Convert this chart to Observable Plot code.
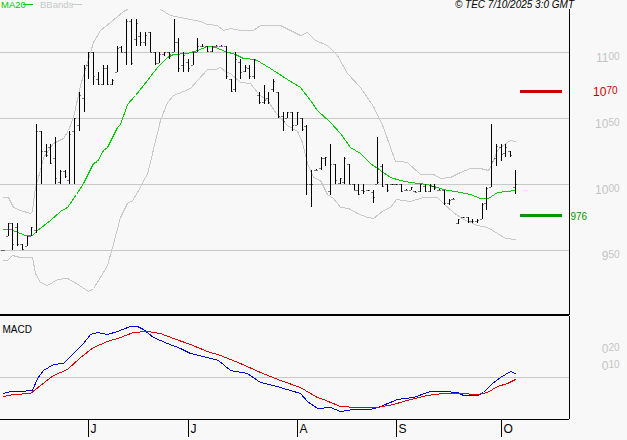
<!DOCTYPE html>
<html><head><meta charset="utf-8">
<script src="https://cdn.jsdelivr.net/npm/d3@7"></script>
<script src="https://cdn.jsdelivr.net/npm/@observablehq/plot@0.6"></script>
<style>
html,body{margin:0;padding:0;background:#f8f8f8;}
#wrap{position:relative;width:627px;height:440px;overflow:hidden;font-family:"Liberation Sans",Arial,sans-serif;background:#f8f8f8;}
#wrap svg{position:absolute;left:0;}
.hdr{position:absolute;top:0;font-size:9.5px;line-height:10px;white-space:nowrap;}
.sw{position:absolute;height:1px;width:10px;top:4px;}
</style></head><body><div id="wrap">
<div class="hdr" style="left:1px;color:#00cc00">MA20</div><div class="sw" style="left:23px;background:#00cc00"></div>
<div class="hdr" style="left:40px;color:#c8c8c8">BBands</div><div class="sw" style="left:72px;background:#c8c8c8"></div>
<div class="hdr" style="right:53px;font-size:10px;font-style:italic;color:#000">© TEC 7/10/2025 3:0 GMT</div>
</div>
<script>
// ---- Daily OHLC (bar index 0 = early May 2025, last = 6 Oct 2025) ----
const high = [950,971,971,971,955,961,968,1046,1040.6,1030.5,
 1030.5,1035.6,1011,1011,1040,1050,1070,1090,1100,1100,
 1085,1090,1090,1080,1105,1105,1125,1125,1125,1115.6,
 1115.6,1115.6,1100,1100,1100,1100,1125,1110.6,1100,1095,
 1100,1110.6,1106,1105,1105,1105.5,1105.5,1105,1080,1100,
 1095,1090,1090,1095,1070,1075,1070,1080,1070,1055,
 1055,1055,1055,1050,1045,1011,1011.5,1021,1021,1030.5,
 1015,1005,1021,1015,1000,1000,1000,996,995.5,1036,
 1015,1000,1000.5,1000.5,1000,996.5,998,995,1000,1000,
 1000,1000,996.5,996,989,989.5,974,975.5,975,974,
 974,986,998,1045.6,1030.5,1030.5,1030.5,1025,1011];
const low = [950,961,950,953,950,953,961,963,1000,1021,
 1015,1000,1000,1005,1000,1000,1040.6,1055,1080,1075,
 1075,1075,1075,1075,1085,1100,1090,1090,1105,1105,
 1105,1100,1090,1092,1097,1095,1100,1085,1085,1085,
 1090,1100,1104,1100,1100,1104.5,1104.5,1080,1070,1070,
 1080,1085,1080,1080,1060.6,1060.6,1060.6,1070,1050,1040,
 1050,1040,1045,1040,992,983,1010.5,1011,1014,992,
 1000,1000,1000,1000,995.5,992,993,995,986,1000,
 998,994,999.5,999.5,994,995.5,995.5,994,994,994,
 994,996,995.5,984,984,988.5,970,974.5,971,971,
 971,974,980.5,998,1014,1018,1021,1021,993];
const open = [950,961,971,968,955,953,961,965,1040,1025,
 1028,1020,1002,1010,1003,1040,1045,1065,1090,1100,
 1080,1076,1088,1076,1085,1104,1100,1124,1110,1112,
 1108,1115,1100,1092,1099,1100,1100,1108,1090,1093,
 1090,1100,1105,1105,1101,1105,1105,1105,1080,1072,
 1093,1086,1088,1082,1068,1062,1065,1072,1070,1052,
 1050,1055,1045,1050,1044,1000,1011,1012,1020,995,
 1015,1001,1002,1015,1000,996,996,995.5,994,1000,
 1014,1000,1000,1000,1000,996,996,995,995,999,
 995,999,996,996,986,989,971,975,975,972,
 972,974,986,998,1020,1028,1024,1025,998];
const close = [950,971,955,955,951,961,968,1040,1025,1022,
 1016,1005,1010,1006,1038,1050,1068,1088,1100,1082,
 1076,1088,1076,1079,1103,1100,1124,1092,1122,1108,
 1113,1100,1092,1099,1100,1099,1108,1088,1098,1088,
 1100,1105,1105,1101,1105,1105,1105,1082,1071,1095,
 1085,1089,1082,1094,1062,1064,1062,1078,1052,1048,
 1055,1045,1055,1042,1000,1000,1011,1020,1021,1015,
 1003,1005,1020,1000,996,993,995,995.5,990,1002,
 999,996,1000,1000,995,996,998,994,1000,995,
 999,997,996,986,988,989,974,975,972,972,
 973,985,997,1018,1029,1023,1028,1022,1000];

// ---- Indicator lines: [bar index, value] ----
const ma20 = [[0,966],[1.5,966],[4.6,961.4],[6.1,961.4],[7.1,965],[9.9,973],[12,980],[13.4,983],[15.5,993],[16.9,1000.8],
 [19,1016],[19.8,1018],[21.2,1026],[21.9,1028.5],[24,1043.6],[24.7,1046],[26.1,1061],[27.8,1067.6],[30.3,1079],[32.4,1089],
 [34.5,1096.7],[35.9,1099],[38.8,1099.7],[40.9,1102],[43,1105],[44.7,1104],[46.8,1101],[49,1098.7],[50.7,1096],[53.2,1094.7],
 [56.3,1088],[59.9,1080],[62.7,1073.4],[64.8,1064],[66.2,1056],[69,1047.4],[71.1,1038.6],[73.2,1028.5],[75.3,1023.5],[77.4,1016],
 [79.5,1011],[81.6,1005.8],[83.8,1003],[85.9,1001.5],[89.4,1000],[92.9,996.7],[96.4,994.4],[98.5,992.4],[100.6,989.4],[102.4,989.4],
 [104.2,994.3],[106.3,995],[108,995.7]];
const bandUpper = [[0,990],[1.1,990],[2.2,983],[3.6,980.5],[5.7,978.5],[6.2,980],[6.8,998],[7.8,1011],[8.5,1021],[10.6,1031],
 [12.7,1035],[13.8,1041],[14.8,1051],[16.2,1075],[17.7,1093],[19,1108],[20.5,1117],[22.6,1123],[25.4,1131],[26.1,1133],
 [28.5,1138],[31,1138],[33.1,1133],[35.2,1128],[41.6,1124],[43,1121.4],[45.1,1120.7],[46.5,1117],[47.9,1118.6],[50,1117],
 [52.8,1117],[54.2,1120.7],[58.4,1120.7],[60.5,1117],[62.7,1113],[64.1,1115],[65.8,1109],[68.3,1105.5],[70.4,1098],[72.5,1084],
 [75.3,1074],[78.1,1059],[80.2,1043.6],[81.6,1028.5],[82.7,1018],[83.8,1018],[85.2,1016.6],[88,1008],[90.8,1008],[92.2,1004.5],
 [94.3,1005.8],[96.4,1009.5],[98.5,1012],[100.6,1012],[102.4,1011],[103.1,1016],[104.2,1026],[104.9,1028.5],[107,1033.5],[108,1033]];
const bandLower = [[0,942.7],[0.8,942.7],[1.8,946.4],[3.6,944.7],[6.1,944.7],[6.8,932.6],[7.8,926.2],[9.2,924],[11.3,928],[13.4,928.8],
 [15.5,925],[18,919],[19,921.2],[20.5,930],[21.9,939],[22.9,952.7],[24.7,975.5],[26.1,986],[27.2,988],[28.9,998],
 [29.6,1003],[30.3,1008],[31.7,1027],[33.1,1048.7],[34.5,1062.6],[35.9,1067.6],[38,1071],[39.5,1072.7],[40.9,1079],[43,1087],
 [44.7,1087],[45.8,1089],[46.8,1086],[47.9,1084],[50,1077.7],[52.1,1077],[53.5,1070],[54.2,1067.6],[55.6,1064],[57.7,1053.8],
 [59.9,1045],[62,1040],[63,1032],[64.1,1016],[65.5,1005.8],[66.9,1003],[68.3,993],[69.7,989.4],[71.1,983],[72.8,981.8],
 [74.6,978],[76.7,975],[78.1,974.2],[80.2,980.5],[81.6,983],[83,988.6],[85.9,987],[88.7,990.6],[91.5,990.6],[92.9,985.6],
 [95,979],[97.1,973.5],[100,969],[102.1,967.9],[104.2,963],[106,959],[108,958.3]];
const macdLine = [[0,-0.094],[1.5,-0.081],[3.6,-0.081],[6.1,-0.075],[7.1,-0.006],[8.5,0.043],[10.6,0.078],[12.7,0.086],[14.8,0.141],[16.9,0.2],
 [18.4,0.255],[19.8,0.265],[21.9,0.255],[24,0.274],[26.8,0.302],[28.2,0.302],[29.6,0.282],[31.7,0.235],[34.5,0.204],[37.3,0.17],
 [39.5,0.141],[43,0.121],[45.4,0.102],[47.9,0.043],[51.4,0.024],[54.2,-0.026],[57,-0.045],[60.5,-0.075],[62.7,-0.094],[64.1,-0.137],
 [66.2,-0.182],[69,-0.176],[71.1,-0.196],[73.9,-0.186],[77.4,-0.185],[79.5,-0.169],[83.1,-0.129],[86.6,-0.118],[90.1,-0.079],[92.9,-0.079],
 [95.7,-0.085],[97.1,-0.102],[100,-0.104],[101.3,-0.085],[103.1,-0.035],[104.9,0.004],[107,0.039],[108,0.024]];
const macdSignal = [[0,-0.11],[2.2,-0.098],[5.7,-0.09],[7.8,-0.045],[10.6,0.014],[13.4,0.047],[16.2,0.121],[19,0.18],[21.9,0.214],[24.7,0.239],
 [27.5,0.268],[30.3,0.272],[33.1,0.259],[35.9,0.229],[39.5,0.194],[43,0.156],[45.8,0.131],[50,0.082],[54.2,0.033],[58.4,-0.016],
 [62.7,-0.059],[64.8,-0.094],[66.2,-0.118],[67.6,-0.129],[71.1,-0.169],[74.6,-0.176],[78.8,-0.173],[82.3,-0.157],[85.9,-0.129],[89.4,-0.104],
 [92.9,-0.094],[96.4,-0.094],[100,-0.1],[102.1,-0.085],[104.2,-0.051],[106.3,-0.032],[108,-0.01]];

// ---- Axes / levels ----
const priceTicks = [1100, 1050, 1000, 950];
const macdTicks = [0.2, 0.1];
const macdTickLabels = ["020", "010"];
const monthIdx = [18, 39, 62, 83, 105];
const monthLabels = ["J", "J", "A", "S", "O"];
const levels = [{v: 1070, label: "1070", color: "#cc0000"}, {v: 976, label: "976", color: "#009900"}];

const bars = high.map((h, i) => ({i, h, l: low[i], o: open[i], c: close[i]}));
const n = bars.length;
const xDomain = [-0.633, 119.41];
const FONT = "Liberation Sans, Arial, sans-serif";
const px = d => d[0], py = d => d[1];
const thin = {strokeWidth: 1, shapeRendering: "crispEdges"};

const main = Plot.plot({
  width: 627, height: 315, marginLeft: 0, marginRight: 58, marginTop: 9, marginBottom: 0,
  style: {background: "transparent", fontFamily: FONT, overflow: "visible"},
  x: {domain: xDomain, axis: null, round: true},
  y: {domain: [900.98, 1132.8], axis: null, round: true},
  marks: [
    Plot.ruleY(priceTicks, {stroke: "#c8c8c8"}),
    Plot.line(bandUpper, {x: px, y: py, stroke: "#c8c8c8", clip: true, ...thin}),
    Plot.line(bandLower, {x: px, y: py, stroke: "#c8c8c8", clip: true, ...thin}),
    Plot.line(ma20, {x: px, y: py, stroke: "#00cc00", clip: true, ...thin}),
    Plot.ruleX(bars, {x: "i", y1: "l", y2: "h", stroke: "black"}),
    Plot.ruleY(bars, {x1: "i", x2: "i", y: "o", insetLeft: -1.5, insetRight: 0.5, stroke: "black"}),
    Plot.ruleY(bars, {x1: "i", x2: "i", y: "c", insetLeft: 0.5, insetRight: -1.5, stroke: "black"}),
    Plot.ruleY(levels, {y: "v", x1: n, x2: n + 9, stroke: "color", strokeWidth: 3, dy: -1}),
    Plot.ruleX([xDomain[1]], {stroke: "black"}),
    Plot.text(priceTicks, {y: d => d, text: d => String(d), frameAnchor: "right", dx: 50, dy: 6,
      textAnchor: "end", fontSize: 12, fill: "#c4c4c4", className: "sup"}),
    Plot.text(levels.slice(0, 1), {y: "v", text: "label", frameAnchor: "right", dx: 48, dy: 0,
      textAnchor: "end", fontSize: 12, fill: "color", className: "sup"}),
    Plot.text(levels.slice(1), {y: "v", text: "label", frameAnchor: "right", dx: 1, dy: 0,
      textAnchor: "start", fontSize: 10, fill: "color"})
  ]
});

const macd = Plot.plot({
  width: 627, height: 127, marginLeft: 0, marginRight: 58, marginTop: 3, marginBottom: 21,
  style: {background: "transparent", fontFamily: FONT, overflow: "visible"},
  x: {domain: xDomain, axis: null, round: true},
  y: {domain: [-0.2453, 0.3606], axis: null, round: true},
  marks: [
    Plot.ruleY([0], {stroke: "#c8c8c8"}),
    Plot.line(macdLine, {x: px, y: py, stroke: "#0000dd", ...thin}),
    Plot.line(macdSignal, {x: px, y: py, stroke: "#dd0000", ...thin}),
    Plot.ruleY([0.3606], {stroke: "black", strokeWidth: 2, dy: -1.5}),
    Plot.ruleY([-0.2453], {stroke: "black"}),
    Plot.ruleX([xDomain[1]], {stroke: "black"}),
    Plot.axisX({ticks: monthIdx, tickSize: 18, tickFormat: () => "", color: "black"}),
    Plot.text(monthLabels, {x: (d, i) => monthIdx[i], frameAnchor: "bottom", dy: 13.5, dx: 2,
      textAnchor: "start", fontSize: 12, fill: "black"}),
    Plot.text(["MACD"], {frameAnchor: "top-left", dx: 2, dy: 9, textAnchor: "start", fontSize: 10, fill: "black"}),
    Plot.text(macdTicks, {y: d => d, text: (d, i) => macdTickLabels[i], frameAnchor: "right", dx: 50, dy: 6,
      textAnchor: "end", fontSize: 12, fill: "#c4c4c4", className: "sup"})
  ]
});

const wrap = document.getElementById("wrap");
main.style.top = "0px";
macd.style.top = "313px";
wrap.appendChild(main);
wrap.appendChild(macd);

// Smaller raised last two digits, as in the reference labels
for (const svg of [main, macd]) {
  svg.querySelectorAll(".sup text, text.sup").forEach(t => {
    const s = t.textContent;
    const big = s.slice(0, -2), small = s.slice(-2);
    t.textContent = "";
    const ns = "http://www.w3.org/2000/svg";
    const a = document.createElementNS(ns, "tspan"); a.textContent = big;
    const b = document.createElementNS(ns, "tspan"); b.textContent = small;
    b.setAttribute("font-size", "10"); b.setAttribute("dy", "-2.5");
    t.appendChild(a); t.appendChild(b);
  });
}
</script>
</body></html>
